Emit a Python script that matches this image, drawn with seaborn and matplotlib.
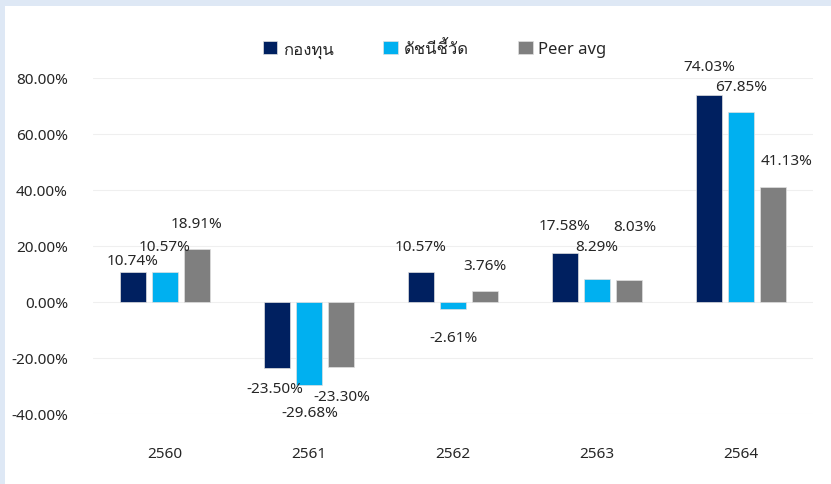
import matplotlib
matplotlib.use("Agg")
import matplotlib.pyplot as plt
import matplotlib.patches as mpatches
from matplotlib.ticker import FuncFormatter
import pandas as pd
import seaborn as sns

# data
years = ["2560", "2561", "2562", "2563", "2564"]
series = ["กองทุน", "ดัชนีชี้วัด", "Peer avg"]
fund = [10.74, -23.50, 10.57, 17.58, 74.03]
index = [10.57, -29.68, -2.61, 8.29, 67.85]
peer = [18.91, -23.30, 3.76, 8.03, 41.13]
y_ticks = [-40, -20, 0, 20, 40, 60, 80]

colors = ["#002060", "#00B0F0", "#7F7F7F"]

# label offsets (pixels) from the bar end, Excel moved some of them around
label_offsets = [
    [(0, 11), (-2, -21), (0, 26), (0, 27), (0, 28)],
    [(0, 26), (1, -27), (0, -28), (0, 32), (0, 26)],
    [(0, 26), (1, -29), (0, 26), (6, 53), (14, 26)],
]

sns.set_theme(style="white")
plt.rcParams["font.family"] = ["Noto Sans", "Loma", "DejaVu Sans"]

df = pd.DataFrame({
    "year": years * 3,
    "series": [series[0]] * 5 + [series[1]] * 5 + [series[2]] * 5,
    "value": fund + index + peer,
})

fig = plt.figure(figsize=(8.31, 4.85), dpi=100, facecolor="#DEE8F5")
fig.patches.append(mpatches.Rectangle((5 / 831, 0), 1, 1 - 7 / 485,
                                      transform=fig.transFigure,
                                      facecolor="white", edgecolor="none", zorder=-5))
ax = fig.add_axes([93 / 831, 1 - 415 / 485, 720 / 831, 336 / 485])
ax.set_facecolor("none")

sns.barplot(data=df, x="year", y="value", hue="series", palette=colors,
            saturation=1, width=0.667, gap=0.19, edgecolor="#E0E0E0",
            linewidth=0.5, ax=ax, zorder=3)

ax.set_ylim(-40, 80)
ax.set_yticks(y_ticks)
ax.yaxis.set_major_formatter(FuncFormatter(lambda v, p: f"{v:.2f}%"))
ax.grid(axis="y", color="#EFEFEF", linewidth=0.8, zorder=0)
ax.set_axisbelow(True)
for s in ax.spines.values():
    s.set_visible(False)
ax.tick_params(axis="y", length=0, pad=18, labelsize=11, labelcolor="#262626")
ax.tick_params(axis="x", length=0, pad=23, labelsize=11, labelcolor="#262626")
ax.set_xlabel("")
ax.set_ylabel("")

all_vals = [fund, index, peer]
for i, cont in enumerate(ax.containers):
    for j, bar in enumerate(cont):
        v = all_vals[i][j]
        dx, dy = label_offsets[i][j]
        x = bar.get_x() + bar.get_width() / 2
        ax.annotate(f"{v:.2f}%", (x, v), xytext=(dx, dy),
                    textcoords="offset pixels", ha="center", va="center",
                    fontsize=11, color="#262626", zorder=5)

handles, labels = ax.get_legend_handles_labels()
ax.get_legend().remove()
fig.legend(handles, labels, loc="center", bbox_to_anchor=(0.523, 1 - 50 / 485),
           ncol=3, frameon=False, fontsize=12, handlelength=0.85,
           handleheight=0.85, handletextpad=0.35, columnspacing=3.0,
           labelcolor="#262626")

fig.savefig("out.png", dpi=100, facecolor=fig.get_facecolor())
